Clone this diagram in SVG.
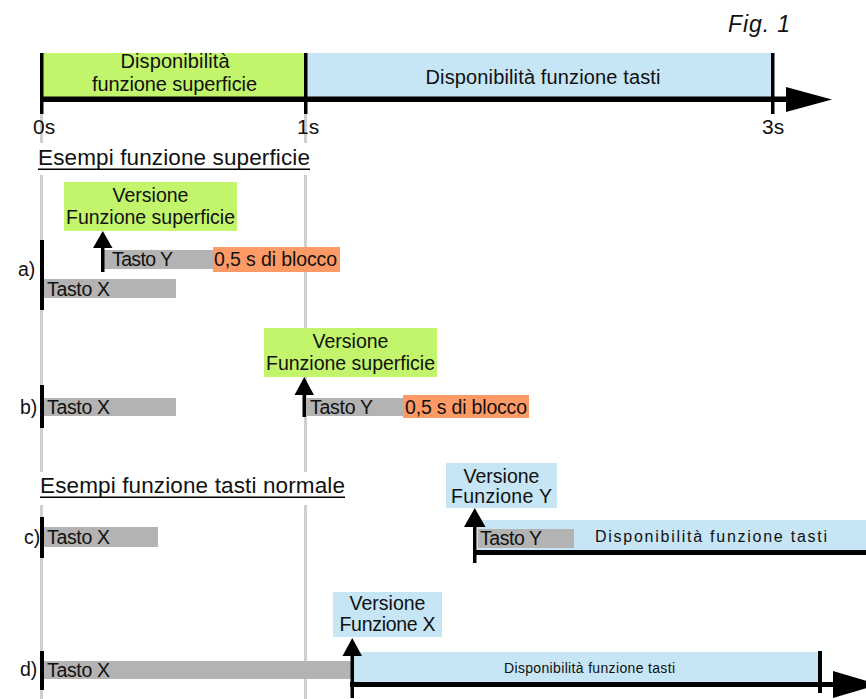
<svg xmlns="http://www.w3.org/2000/svg" width="866" height="699" viewBox="0 0 866 699">
<style>
text{font-family:"Liberation Sans",Arial,sans-serif;fill:#111;}
.t20{font-size:20px;}
.t19{font-size:19.5px;}
.ax{font-size:21px;}
.hd{font-size:22.5px;}
.sm{font-size:16px;}
.xs{font-size:14px;}
.green{fill:#c3f56c;}
.blue{fill:#c6e5f5;}
.orange{fill:#fe9a66;}
.bar{fill:#b3b3b3;}
.blk{fill:#000;}
.guide{fill:#cfcfcf;}
.mid{text-anchor:middle;}
</style>
<rect width="866" height="699" fill="#fff"/>
<g id="guides">
<rect class="guide" x="40" y="114" width="3" height="29"/>
<rect class="guide" x="304" y="114" width="3" height="29"/>
<rect class="guide" x="40" y="175" width="3" height="297"/>
<rect class="guide" x="304" y="175" width="3" height="297"/>
<rect class="guide" x="40" y="505" width="3" height="194"/>
<rect class="guide" x="304" y="505" width="3" height="194"/>
</g>
<text x="728" y="32" textLength="62" style="font-size:23px;font-style:italic">Fig. 1</text>
<g id="axis">
<rect class="green" x="42" y="53" width="264" height="46"/>
<rect class="blue" x="306" y="53" width="466" height="46"/>
<text class="t20 mid" x="175" y="68" textLength="109">Disponibilità</text>
<text class="t20 mid" x="174.5" y="91" textLength="165">funzione superficie</text>
<text class="t20 mid" x="543" y="84" textLength="235">Disponibilità funzione tasti</text>
<rect class="blk" x="40" y="96.5" width="748" height="5.5"/>
<polygon class="blk" points="786,87 832,99.5 786,112"/>
<rect class="blk" x="40" y="53" width="3.5" height="61"/>
<rect class="blk" x="304" y="53" width="3.5" height="61"/>
<rect class="blk" x="771" y="53" width="3.5" height="61"/>
<text class="ax" x="33" y="134">0s</text>
<text class="ax" x="297" y="134">1s</text>
<text class="ax" x="762" y="134">3s</text>
</g>
<g id="heading1">
<text class="hd" x="38" y="165" textLength="272">Esempi funzione superficie</text>
<rect class="blk" x="38" y="168.5" width="272" height="1.5"/>
</g>
<g id="example-a">
<text class="t19" x="18" y="276">a)</text>
<rect class="blk" x="40" y="240" width="4" height="70"/>
<rect class="bar" x="44" y="279" width="132" height="19"/>
<text class="t19" x="47" y="296" textLength="63">Tasto X</text>
<rect class="bar" x="104" y="250" width="109" height="19"/>
<text class="t19" x="112" y="266" textLength="61">Tasto Y</text>
<rect class="orange" x="213" y="247" width="127" height="25"/>
<text class="t19" x="214" y="266" textLength="123">0,5 s di blocco</text>
<rect class="green" x="64" y="182" width="173" height="49"/>
<text class="t19 mid" x="150.5" y="202">Versione</text>
<text class="t19 mid" x="150.5" y="224" textLength="169">Funzione superficie</text>
</g>
<g id="example-b">
<text class="t19" x="20" y="414">b)</text>
<rect class="blk" x="40" y="385" width="4" height="43"/>
<rect class="bar" x="44" y="398" width="132" height="18"/>
<text class="t19" x="47" y="414" textLength="63">Tasto X</text>
<rect class="bar" x="305" y="398" width="99" height="18"/>
<text class="t19" x="310" y="414" textLength="63">Tasto Y</text>
<rect class="orange" x="403" y="395" width="126" height="23"/>
<text class="t19" x="405" y="414" textLength="122">0,5 s di blocco</text>
<rect class="green" x="264" y="328" width="173" height="49"/>
<text class="t19 mid" x="350.5" y="348">Versione</text>
<text class="t19 mid" x="350.5" y="370" textLength="169">Funzione superficie</text>
</g>
<g id="heading2">
<text class="hd" x="40" y="493" textLength="305">Esempi funzione tasti normale</text>
<rect class="blk" x="40" y="496.5" width="305" height="1.5"/>
</g>
<g id="example-c">
<text class="t19" x="24" y="544">c)</text>
<rect class="blk" x="40" y="517" width="4" height="41"/>
<rect class="bar" x="44" y="527" width="114" height="20"/>
<text class="t19" x="47" y="544" textLength="63">Tasto X</text>
<rect class="blue" x="477" y="520" width="389" height="32"/>
<rect class="blk" x="473" y="550" width="393" height="5"/>
<rect class="bar" x="478" y="529" width="96" height="19"/>
<text class="t19" x="480" y="545" textLength="62">Tasto Y</text>
<text class="sm" x="595" y="542" textLength="232">Disponibilità funzione tasti</text>
<rect class="blue" x="446" y="463" width="111" height="45"/>
<text class="t19 mid" x="501.5" y="483">Versione</text>
<text class="t19 mid" x="501.5" y="503" textLength="101">Funzione Y</text>
</g>
<g id="example-d">
<text class="t19" x="20" y="676">d)</text>
<rect class="blk" x="40" y="651" width="4" height="39"/>
<rect class="bar" x="44" y="661" width="309" height="18"/>
<text class="t19" x="47" y="677" textLength="63">Tasto X</text>
<rect class="blue" x="352" y="652" width="468" height="30"/>
<text class="xs" x="504" y="673" textLength="171">Disponibilità funzione tasti</text>
<rect class="blk" x="350" y="682" width="485" height="5"/>
<polygon class="blk" points="833,671 879,684.5 833,698"/>
<rect class="blk" x="818" y="651" width="4" height="42"/>
<rect class="blue" x="333" y="592" width="109" height="45"/>
<text class="t19 mid" x="387.5" y="610">Versione</text>
<text class="t19 mid" x="387.5" y="631" textLength="96">Funzione X</text>
</g>
<g id="connectors">
<rect class="blk" x="101" y="245" width="3.5" height="27"/>
<polygon class="blk" points="93,248 102.75,231 112.5,248"/>
<rect class="blk" x="302.5" y="392" width="3.5" height="25"/>
<polygon class="blk" points="294.5,395 304.25,377 314,395"/>
<rect class="blk" x="473" y="524" width="3.5" height="39"/>
<polygon class="blk" points="464,527 474.75,508 485.5,527"/>
<rect class="blk" x="350.5" y="652" width="3.5" height="46"/>
<polygon class="blk" points="342.5,656 352.25,638 362,656"/>
</g>
</svg>
